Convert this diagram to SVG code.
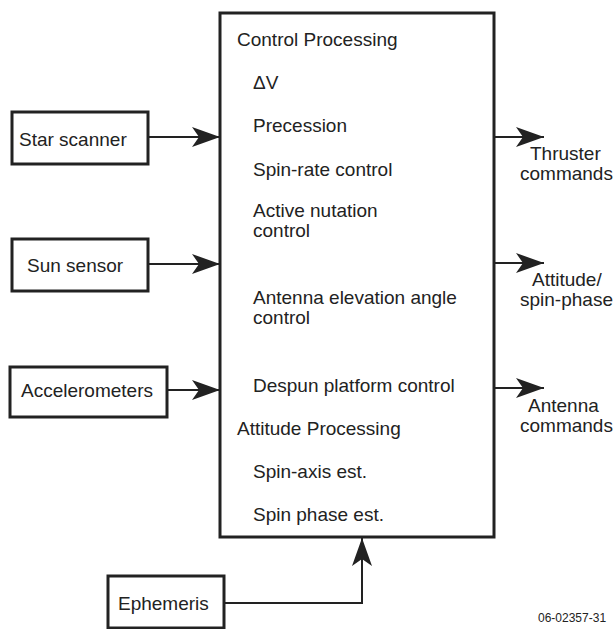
<svg xmlns="http://www.w3.org/2000/svg" width="616" height="629" viewBox="0 0 616 629">
<defs>
<style>
text{font-family:"Liberation Sans",Arial,sans-serif;font-size:19px;fill:#222}
.box{fill:#fff;stroke:#222;stroke-width:3}
.line{fill:none;stroke:#222;stroke-width:2}
.small{font-size:12px}
</style>
<marker id="ah" viewBox="0 0 28 20" markerWidth="28" markerHeight="20" refX="28" refY="10" orient="auto" markerUnits="userSpaceOnUse">
<path d="M0,0 L28,10 L0,20 L7,10 Z" fill="#222"/>
</marker>
</defs>
<rect width="616" height="629" fill="#fff"/>
<g id="processor">
<rect class="box" x="220" y="13" width="274" height="524"/>
<text x="237" y="46">Control Processing</text>
<text x="253" y="89">ΔV</text>
<text x="253" y="132">Precession</text>
<text x="253" y="176">Spin-rate control</text>
<text x="253" y="217">Active nutation</text>
<text x="253" y="237">control</text>
<text x="253" y="304">Antenna elevation angle</text>
<text x="253" y="324">control</text>
<text x="253" y="392">Despun platform control</text>
<text x="237" y="435">Attitude Processing</text>
<text x="253" y="478">Spin-axis est.</text>
<text x="253" y="521">Spin phase est.</text>
</g>
<g id="star-scanner">
<rect class="box" x="12" y="112" width="136" height="52"/>
<text x="19" y="146">Star scanner</text>
</g>
<g id="sun-sensor">
<rect class="box" x="12" y="239" width="136" height="52"/>
<text x="27" y="272">Sun sensor</text>
</g>
<g id="accelerometers">
<rect class="box" x="10" y="367" width="157" height="50"/>
<text x="21" y="397">Accelerometers</text>
</g>
<g id="ephemeris">
<rect class="box" x="108" y="576" width="116" height="52"/>
<text x="118" y="610">Ephemeris</text>
</g>
<g id="connectors">
<line class="line" x1="148" y1="137" x2="220" y2="137" marker-end="url(#ah)"/>
<line class="line" x1="148" y1="264" x2="220" y2="264" marker-end="url(#ah)"/>
<line class="line" x1="167" y1="390" x2="220" y2="390" marker-end="url(#ah)"/>
<polyline class="line" points="224,603 362,603 362,538" marker-end="url(#ah)"/>
<line class="line" x1="494" y1="137" x2="544" y2="137" marker-end="url(#ah)"/>
<line class="line" x1="494" y1="263" x2="544" y2="263" marker-end="url(#ah)"/>
<line class="line" x1="494" y1="388" x2="544" y2="388" marker-end="url(#ah)"/>
</g>
<g id="output-labels">
<text x="530" y="160">Thruster</text>
<text x="520" y="180">commands</text>
<text x="532" y="286">Attitude/</text>
<text x="520" y="306">spin-phase</text>
<text x="528" y="412">Antenna</text>
<text x="520" y="432">commands</text>
</g>
<text class="small" x="538" y="622">06-02357-31</text>
</svg>
